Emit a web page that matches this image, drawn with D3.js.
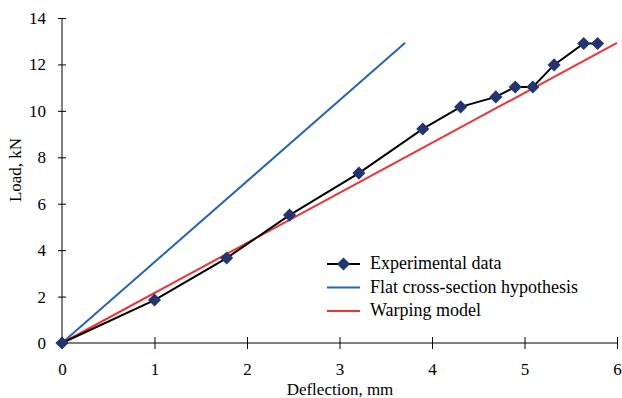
<!DOCTYPE html>
<html>
<head>
<meta charset="utf-8">
<script src="https://cdn.jsdelivr.net/npm/d3@7"></script>
<style>
  body { margin: 0; background: #fff; }
  svg text { font-family: "Liberation Serif", "DejaVu Serif", serif; fill: #000; }
</style>
</head>
<body>
<div id="chart"></div>
<script>
// experimental data
const deflection = [0, 1.0, 1.78, 2.46, 3.21, 3.90, 4.31, 4.69, 4.90, 5.09, 5.32, 5.64, 5.79];
const load = [0, 1.85, 3.66, 5.51, 7.32, 9.22, 10.17, 10.6, 11.03, 11.03, 11.98, 12.9, 12.9];

// model lines (two end points each)
const flatX = [0, 3.71];
const flatY = [0, 12.93];
const warpX = [0, 6];
const warpY = [0, 12.93];

const xTicks = [0, 1, 2, 3, 4, 5, 6];
const yTicks = [0, 2, 4, 6, 8, 10, 12, 14];

const legendNames = ["Experimental data", "Flat cross-section hypothesis", "Warping model"];
const colors = { exp: "#000000", marker: "#24346f", flat: "#2a63b1", warp: "#ee3333" };

const W = 622, H = 398;
const margin = { top: 18, right: 5, bottom: 55, left: 62 };

const svg = d3.select("#chart").append("svg")
  .attr("width", W).attr("height", H);

const x = d3.scaleLinear().domain([0, 6]).range([margin.left, W - margin.right]);
const y = d3.scaleLinear().domain([0, 14]).range([H - margin.bottom, margin.top]);

// axes
const xAxis = svg.append("g")
  .attr("transform", `translate(0,${y(0)})`)
  .call(d3.axisBottom(x).tickValues(xTicks).tickSize(6).tickPadding(14).tickFormat(d3.format("d")));
xAxis.select(".domain").attr("d", `M${x(0)},0H${x(6)}`);
xAxis.selectAll(".tick line").attr("y1", -6).attr("y2", 6);

const yAxis = svg.append("g")
  .attr("transform", `translate(${x(0)},0)`)
  .call(d3.axisLeft(y).tickValues(yTicks).tickSize(4).tickPadding(12).tickFormat(d3.format("d")));
yAxis.select(".domain").attr("d", `M0,${y(0)}V${y(14)}`);
yAxis.selectAll(".tick line").attr("x1", -4).attr("x2", 4);

[xAxis, yAxis].forEach(a => {
  a.selectAll("text").style("font-size", "17px").style("font-family", "Liberation Serif, serif").attr("fill", "#000");
  a.selectAll("line, path").attr("stroke", "#000").attr("stroke-width", 1);
});

// axis titles
svg.append("text")
  .attr("x", 340).attr("y", 395)
  .attr("text-anchor", "middle").style("font-size", "17px")
  .text("Deflection, mm");
svg.append("text")
  .attr("transform", "translate(21,170) rotate(-90)")
  .attr("text-anchor", "middle").style("font-size", "17px")
  .text("Load, kN");

const line = d3.line().x(d => x(d[0])).y(d => y(d[1]));

// model lines
svg.append("path").datum(d3.zip(flatX, flatY))
  .attr("fill", "none").attr("stroke", colors.flat).attr("stroke-width", 2).attr("d", line);
svg.append("path").datum(d3.zip(warpX, warpY))
  .attr("fill", "none").attr("stroke", colors.warp).attr("stroke-width", 2).attr("d", line);

// experimental
const expData = d3.zip(deflection, load);
svg.append("path").datum(expData)
  .attr("fill", "none").attr("stroke", colors.exp).attr("stroke-width", 2).attr("d", line);

const diamond = d3.symbol().type(d3.symbolDiamond2).size(110);
svg.selectAll(".pt").data(expData).join("path")
  .attr("class", "pt")
  .attr("transform", d => `translate(${x(d[0])},${y(d[1])})`)
  .attr("d", diamond)
  .attr("fill", colors.marker);

// legend
const legend = svg.append("g").attr("transform", "translate(327,264)");
legendNames.forEach((name, i) => {
  const g = legend.append("g").attr("transform", `translate(0,${i * 23.5})`);
  const c = i === 0 ? colors.exp : (i === 1 ? colors.flat : colors.warp);
  g.append("line").attr("x1", 0).attr("x2", 33).attr("y1", 0).attr("y2", 0)
    .attr("stroke", c).attr("stroke-width", 2);
  if (i === 0) {
    g.append("path").attr("transform", "translate(16.5,0)").attr("d", diamond).attr("fill", colors.marker);
  }
  g.append("text").attr("x", 43).attr("y", 5).style("font-size", "18px").text(name);
});
</script>
</body>
</html>
